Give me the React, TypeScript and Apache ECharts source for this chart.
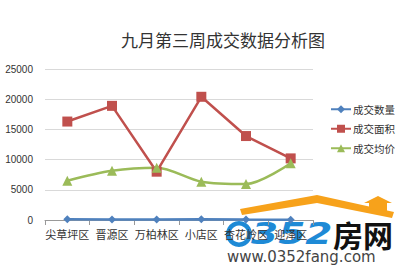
import React, { useEffect, useRef } from "react";
import * as echarts from "echarts";

const categories = ["尖草坪区", "晋源区", "万柏林区", "小店区", "杏花岭区", "迎泽区"];
const countValues = [120, 80, 90, 110, 70, 60];
const areaValues = [16300, 18900, 8000, 20400, 13900, 10200];
const priceValues = [6500, 8150, 8650, 6350, 5950, 9400];
const yTicks = { min: 0, max: 25000, interval: 5000 };

export default function App() {
  const ref = useRef<HTMLDivElement>(null);
  useEffect(() => {
    const chart = echarts.init(ref.current!, null, { renderer: "svg" });
    const font = "'Noto Sans CJK SC', sans-serif";
    chart.setOption({
      animation: false,
      backgroundColor: "#fff",
      title: {
        text: "九月第三周成交数据分析图",
        left: 218,
        top: 26,
        textAlign: "center",
        textStyle: { fontFamily: font, fontSize: 17, fontWeight: "normal", color: "#333" },
      },
      legend: {
        orient: "vertical",
        left: 330,
        top: 104,
        padding: 0,
        itemWidth: 20,
        itemHeight: 10,
        itemGap: 9,
        textStyle: { fontFamily: font, fontSize: 10.5, color: "#333", padding: [0, 0, 0, -3] },
        data: ["成交数量", "成交面积", "成交均价"],
      },
      grid: { left: 45, right: 87, top: 69, bottom: 50 },
      xAxis: {
        type: "category",
        data: categories,
        axisLine: { lineStyle: { color: "#999" } },
        axisTick: { show: true, lineStyle: { color: "#999" } },
        axisLabel: { fontFamily: font, fontSize: 11, color: "#333", margin: 8, interval: 0 },
      },
      yAxis: {
        type: "value",
        ...yTicks,
        axisLine: { show: false },
        axisTick: { show: false },
        splitLine: { lineStyle: { color: "#d9d9d9" } },
        axisLabel: {
          fontFamily: "'Liberation Sans', sans-serif",
          fontSize: 10,
          color: "#333",
          margin: 12,
          formatter: (v: number) => String(v),
        },
      },
      series: [
        {
          name: "成交数量",
          type: "line",
          data: countValues,
          symbol: "diamond",
          symbolSize: 8,
          color: "#4f81bd",
          lineStyle: { width: 2.5 },
        },
        {
          name: "成交面积",
          type: "line",
          data: areaValues,
          symbol: "rect",
          symbolSize: 10,
          color: "#c0504d",
          lineStyle: { width: 2.5 },
        },
        {
          name: "成交均价",
          type: "line",
          data: priceValues,
          symbol: "triangle",
          symbolSize: 10,
          smooth: 0.3,
          color: "#9bbb59",
          lineStyle: { width: 2.5 },
        },
      ],
      graphic: {
        elements: [
          {
            type: "group",
            z: 100,
            children: [
              {
                type: "ring",
                shape: { cx: 239, cy: 234, r: 13, r0: 8.5 },
                style: { fill: "#1e8ad6" },
              },
              {
                type: "text",
                x: 251,
                y: 234,
                scaleX: 1.3,
                style: {
                  text: "352",
                  fill: "#1e8ad6",
                  font: "italic bold 30px 'DejaVu Sans', sans-serif",
                  textVerticalAlign: "middle",
                },
              },
              {
                type: "text",
                x: 333,
                y: 234,
                style: {
                  text: "房网",
                  fill: "#111",
                  font: "bold 30px 'Noto Sans CJK SC', sans-serif",
                  textVerticalAlign: "middle",
                },
              },
              {
                type: "text",
                x: 227,
                y: 257,
                style: {
                  text: "www.0352fang.com",
                  fill: "#444",
                  font: "15px 'DejaVu Sans', sans-serif",
                  textVerticalAlign: "middle",
                },
              },
              {
                type: "polygon",
                shape: {
                  points: [[240, 209], [317, 195], [394, 212], [392, 218], [317, 203], [242, 215]],
                },
                style: { fill: "#f7a21b" },
              },
              {
                type: "polygon",
                shape: { points: [[364, 203], [378, 196], [392, 203], [387, 203], [387, 212], [369, 208], [369, 203]] },
                style: { fill: "#f7a21b" },
              },
            ],
          },
        ],
      },
    });
    return () => chart.dispose();
  }, []);
  return <div ref={ref} style={{ width: 400, height: 270, position: "absolute", left: 0, top: 0 }} />;
}
